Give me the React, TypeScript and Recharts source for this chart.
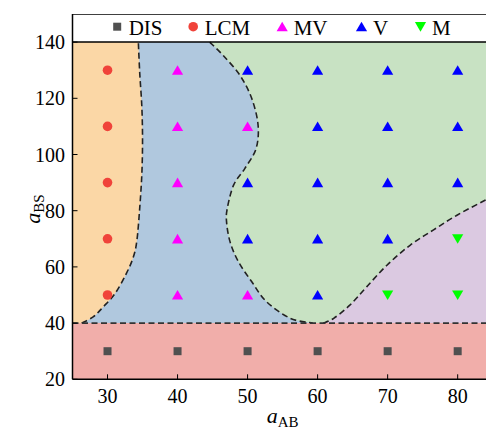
import React from 'react';
import { ComposedChart, Scatter, XAxis, YAxis, Legend } from 'recharts';

// ---------- data ----------
const xTicks = [30, 40, 50, 60, 70, 80];
const yTicks = [20, 40, 60, 80, 100, 120, 140];

const disPoints = [[30, 30], [40, 30], [50, 30], [60, 30], [70, 30], [80, 30]];
const lcmPoints = [[30, 50], [30, 70], [30, 90], [30, 110], [30, 130]];
const mvPoints = [[40, 50], [40, 70], [40, 90], [40, 110], [40, 130], [50, 50], [50, 110]];
const vPoints = [
  [50, 70], [50, 90], [50, 130],
  [60, 50], [60, 70], [60, 90], [60, 110], [60, 130],
  [70, 70], [70, 90], [70, 110], [70, 130],
  [80, 90], [80, 110], [80, 130],
];
const mPoints = [[70, 50], [80, 50], [80, 70]];

// phase boundaries
const lcmBoundary = [
  [26.3, 40], [28, 42.3], [29.4, 45.8], [31.1, 50.6], [32.7, 57.7], [33.7, 63.6],
  [34.2, 69.5], [34.6, 81], [34.9, 93], [35.0, 105], [34.9, 117], [34.6, 129], [34.4, 140],
];
const vBoundary = [
  [44.6, 140], [46.5, 135.3], [48.9, 128.2], [50.6, 119.9], [51.5, 110.4], [51.2, 102],
  [49.6, 95], [48.0, 89.1], [47.1, 80.8], [47.0, 76], [47.5, 68.9], [48.7, 61.8],
  [50.6, 54.7], [52.7, 47.6], [56.1, 41.7], [59.3, 40],
];
const mBoundary = [
  [60.8, 40], [62.3, 41.7], [64.6, 46.4], [67.0, 52.9], [69.9, 60.6], [73.2, 67.7],
  [76.5, 73.1], [79.9, 78.4], [83.9, 83.7], [85, 85],
];

const X_MIN = 25, X_MAX = 85, Y_MIN = 20, Y_MAX = 150, Y_DIS = 40, Y_TOP = 140;

const legendNames = ['DIS', 'LCM', 'MV', 'V', 'M'];
const legendKinds = ['square', 'circle', 'up', 'up', 'down'];
const legendColors = ['#505050', '#f0433a', '#ff00ff', '#0000ff', '#00ff00'];

const toPts = (arr: number[][]) => arr.map(([x, y]) => ({ x, y }));

// ---------- regions ----------
const greenRegion = toPts([[X_MIN, Y_DIS], [X_MAX, Y_DIS], [X_MAX, Y_TOP], [X_MIN, Y_TOP]]);
const blueRegion = toPts([...vBoundary, [X_MIN, Y_DIS], [X_MIN, Y_TOP]]);
const orangeRegion = toPts([...lcmBoundary, [X_MIN, Y_TOP], [X_MIN, Y_DIS]]);
const purpleRegion = toPts([...mBoundary, [X_MAX, Y_DIS]]);
const redRegion = toPts([[X_MIN, Y_MIN], [X_MAX, Y_MIN], [X_MAX, Y_DIS], [X_MIN, Y_DIS]]);
const whiteRegion = toPts([[X_MIN, Y_TOP], [X_MAX, Y_TOP], [X_MAX, Y_MAX], [X_MIN, Y_MAX]]);
const disLine = toPts([[X_MIN, Y_DIS], [X_MAX, Y_DIS]]);
const topLine = toPts([[X_MIN, Y_TOP], [X_MAX, Y_TOP]]);
const frameTop = toPts([[X_MIN, Y_MAX], [X_MAX, Y_MAX]]);

const FONT = '"Liberation Serif", "Times New Roman", serif';
const COLORS = {
  orange: '#fbd7a6',
  blue: '#b0c8de',
  green: '#c8e2c3',
  purple: '#dbc9e1',
  red: '#f1aeaa',
};

function buildPath(pts: { x: number; y: number }[], nCurve: number, close: boolean) {
  if (!pts || !pts.length) return '';
  let d = `M${pts[0].x},${pts[0].y}`;
  const n = Math.min(nCurve, pts.length);
  for (let i = 0; i < n - 1; i++) {
    const p0 = pts[Math.max(i - 1, 0)];
    const p1 = pts[i];
    const p2 = pts[i + 1];
    const p3 = pts[Math.min(i + 2, n - 1)];
    const c1x = p1.x + (p2.x - p0.x) / 6;
    const c1y = p1.y + (p2.y - p0.y) / 6;
    const c2x = p2.x - (p3.x - p1.x) / 6;
    const c2y = p2.y - (p3.y - p1.y) / 6;
    d += ` C${c1x},${c1y} ${c2x},${c2y} ${p2.x},${p2.y}`;
  }
  for (let i = Math.max(n, 1); i < pts.length; i++) d += ` L${pts[i].x},${pts[i].y}`;
  if (close) d += ' Z';
  return d;
}

const regionLine = (fill: string, nCurve: number) => (props: any) => (
  <path d={buildPath(props.points, nCurve, true)} fill={fill} stroke="none" />
);
const curveLine = (nCurve: number, dash: string | undefined, color: string, width: number) => (props: any) => (
  <path
    d={buildPath(props.points, nCurve, false)}
    fill="none"
    stroke={color}
    strokeWidth={width}
    strokeDasharray={dash}
  />
);

const noShape = () => <g />;

function marker(kind: string, cx: number, cy: number, color: string) {
  if (kind === 'square') return <rect x={cx - 4} y={cy - 4} width={8} height={8} fill={color} />;
  if (kind === 'circle') return <circle cx={cx} cy={cy} r={4.8} fill={color} />;
  if (kind === 'up')
    return <polygon points={`${cx},${cy - 5} ${cx - 5.6},${cy + 4.6} ${cx + 5.6},${cy + 4.6}`} fill={color} />;
  return <polygon points={`${cx},${cy + 5} ${cx - 5.6},${cy - 4.6} ${cx + 5.6},${cy - 4.6}`} fill={color} />;
}
const shapeOf = (i: number) => (p: any) => marker(legendKinds[i], p.cx, p.cy, legendColors[i]);

const legendX = [44.2, 120.2, 209.2, 288.5, 347.5];
const LegendContent = () => (
  <svg width={420} height={28} style={{ display: 'block' }}>
    {legendNames.map((name, i) => (
      <g key={name}>
        {marker(legendKinds[i], legendX[i], 12.7, legendColors[i])}
        <text x={legendX[i] + 11.5} y={20.5} fontFamily={FONT} fontSize={21} fill="#000">
          {name}
        </text>
      </g>
    ))}
  </svg>
);

const XLabel = () => (
  <text x={274.6} y={415} textAnchor="middle" fontFamily={FONT} fill="#000">
    <tspan fontStyle="italic" fontSize={22}>a</tspan>
    <tspan fontSize={15} dy={4}>AB</tspan>
  </text>
);
const YLabel = () => (
  <text transform="translate(32,201) rotate(-90)" textAnchor="middle" fontFamily={FONT} fill="#000">
    <tspan fontStyle="italic" fontSize={22}>a</tspan>
    <tspan fontSize={15} dy={4}>BS</tspan>
  </text>
);

const tickStyle = { fontFamily: FONT, fontSize: 20, fill: '#000' };

export default function App() {
  return (
    <div style={{ position: 'absolute', left: 8, top: 8, width: 478, height: 421, overflow: 'hidden' }}>
      <ComposedChart width={500} height={421} margin={{ top: 6, right: 15.3, bottom: 0, left: 4.5 }}>
        <XAxis
          type="number"
          dataKey="x"
          domain={[X_MIN, X_MAX]}
          ticks={xTicks}
          allowDataOverflow
          interval={0}
          height={49.7}
          tickSize={-5}
          tickMargin={14.8}
          tick={tickStyle}
          axisLine={{ stroke: '#000', strokeWidth: 1.5 }}
          tickLine={{ stroke: '#000', strokeWidth: 1 }}
          label={<XLabel />}
        />
        <YAxis
          type="number"
          dataKey="y"
          domain={[Y_MIN, Y_MAX]}
          ticks={yTicks}
          allowDataOverflow
          interval={0}
          width={60}
          tickSize={-5}
          tickMargin={12.5}
          tick={tickStyle}
          axisLine={{ stroke: '#000', strokeWidth: 1.5 }}
          tickLine={{ stroke: '#000', strokeWidth: 1 }}
          label={<YLabel />}
        />
        <Legend
          layout="horizontal"
          verticalAlign="middle"
          align="center"
          wrapperStyle={{ top: 6, left: 64.5, width: 420, height: 28 }}
          content={LegendContent}
        />
        <Scatter data={greenRegion} shape={noShape} line={regionLine(COLORS.green, 0)} legendType="none" isAnimationActive={false} zIndex={101} />
        <Scatter data={blueRegion} shape={noShape} line={regionLine(COLORS.blue, vBoundary.length)} legendType="none" isAnimationActive={false} zIndex={102} />
        <Scatter data={orangeRegion} shape={noShape} line={regionLine(COLORS.orange, lcmBoundary.length)} legendType="none" isAnimationActive={false} zIndex={103} />
        <Scatter data={purpleRegion} shape={noShape} line={regionLine(COLORS.purple, mBoundary.length)} legendType="none" isAnimationActive={false} zIndex={104} />
        <Scatter data={redRegion} shape={noShape} line={regionLine(COLORS.red, 0)} legendType="none" isAnimationActive={false} zIndex={105} />
        <Scatter data={whiteRegion} shape={noShape} line={regionLine('#ffffff', 0)} legendType="none" isAnimationActive={false} zIndex={106} />
        <Scatter data={toPts(lcmBoundary)} shape={noShape} line={curveLine(lcmBoundary.length, '6 3.5', '#222', 1.6)} legendType="none" isAnimationActive={false} zIndex={110} />
        <Scatter data={toPts(vBoundary)} shape={noShape} line={curveLine(vBoundary.length, '6 3.5', '#222', 1.6)} legendType="none" isAnimationActive={false} zIndex={111} />
        <Scatter data={toPts(mBoundary)} shape={noShape} line={curveLine(mBoundary.length, '6 3.5', '#222', 1.6)} legendType="none" isAnimationActive={false} zIndex={112} />
        <Scatter data={disLine} shape={noShape} line={curveLine(0, '6 3.5', '#333', 1.6)} legendType="none" isAnimationActive={false} zIndex={113} />
        <Scatter data={topLine} shape={noShape} line={curveLine(0, undefined, '#000', 1.5)} legendType="none" isAnimationActive={false} zIndex={114} />
        <Scatter data={frameTop} shape={noShape} line={curveLine(0, undefined, '#000', 1.5)} legendType="none" isAnimationActive={false} zIndex={115} />
        <Scatter name="DIS" data={toPts(disPoints)} shape={shapeOf(0)} isAnimationActive={false} />
        <Scatter name="LCM" data={toPts(lcmPoints)} shape={shapeOf(1)} isAnimationActive={false} />
        <Scatter name="MV" data={toPts(mvPoints)} shape={shapeOf(2)} isAnimationActive={false} />
        <Scatter name="V" data={toPts(vPoints)} shape={shapeOf(3)} isAnimationActive={false} />
        <Scatter name="M" data={toPts(mPoints)} shape={shapeOf(4)} isAnimationActive={false} />
      </ComposedChart>
    </div>
  );
}
